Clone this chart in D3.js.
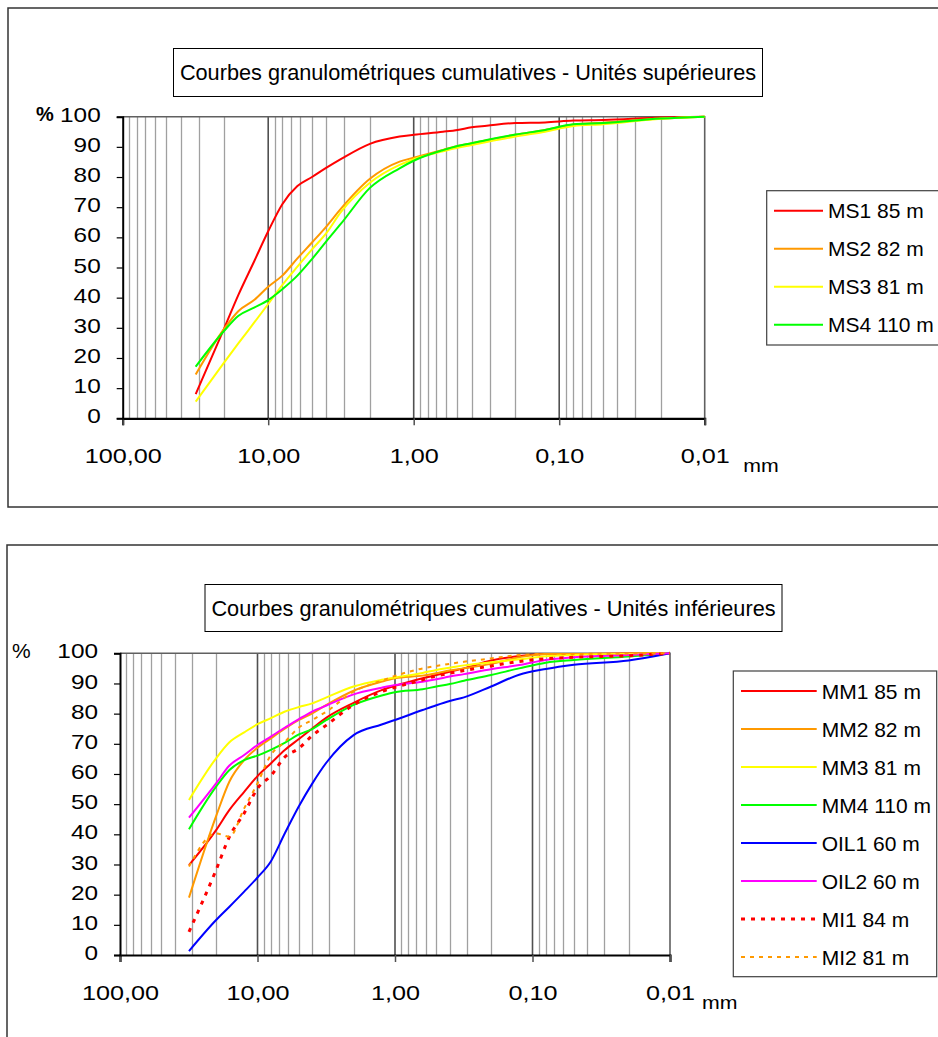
<!DOCTYPE html>
<html><head><meta charset="utf-8">
<script src="https://cdn.jsdelivr.net/npm/d3@7"></script>
<style>
body{margin:0;background:#fff}
svg{display:block}
text{font-family:"Liberation Sans",Arial,sans-serif;fill:#000}
</style>
</head><body>
<svg id="c" width="938" height="1037"></svg>
<script>
// ---------- DATA ----------
const sieves = [31.5, 20, 16, 12.5, 10, 8, 6.3, 5, 4, 3.15, 2, 1.25, 1, 0.63, 0.5, 0.4, 0.315, 0.2, 0.125, 0.08, 0.05, 0.02, 0.01];
const xTickValues = [100, 10, 1, 0.1, 0.01];
const yTickValues = [0, 10, 20, 30, 40, 50, 60, 70, 80, 90, 100];

const topTitle = "Courbes granulométriques cumulatives - Unités supérieures";
const bottomTitle = "Courbes granulométriques cumulatives - Unités inférieures";

const topNames = ["MS1 85 m", "MS2 82 m", "MS3 81 m", "MS4 110 m"];
const MS1 = [8, 30, 41, 52, 62, 71, 77, 80, 83, 86, 91, 93.4, 94, 95, 95.6, 96.5, 97, 97.9, 98.1, 98.7, 98.9, 99.7, 100];
const MS2 = [14.5, 29.8, 35.6, 39.2, 43.6, 47.3, 53, 58.3, 63.5, 69.6, 79.4, 85.1, 86.4, 89, 90.3, 91.2, 92.2, 94, 95.6, 97.4, 98, 99.4, 100];
const MS3 = [5.5, 18.6, 24.9, 31.7, 37.9, 44.2, 50.3, 56, 61.3, 68.5, 78.1, 84, 85.9, 88.5, 89.7, 90.6, 91.6, 93.4, 95, 96.9, 97.5, 99.3, 100];
const MS4 = [17.1, 29.1, 34, 36.7, 39.2, 42.8, 47.3, 52.8, 58.6, 64.6, 76.4, 82.9, 85.4, 88.9, 90.3, 91.2, 92.3, 94.1, 95.6, 97.5, 97.9, 99.4, 100];

const bottomNames = ["MM1 85 m", "MM2 82 m", "MM3 81 m", "MM4 110 m", "OIL1 60 m", "OIL2 60 m", "MI1 84 m", "MI2 81 m"];
const MM1 = [29.8, 41.4, 48.1, 54.1, 59.3, 63.5, 68, 71.6, 75.1, 78.7, 83.6, 87.8, 89.2, 91.7, 92.8, 93.9, 95, 97.6, 99.1, 99.8, 99.8, 99.9, 100];
const MM2 = [19, 46, 57.5, 64.6, 68.7, 71.8, 75.1, 77.9, 80.1, 82.9, 87.6, 90.6, 91.7, 92.6, 93.4, 94.3, 95, 96.5, 98.7, 99.8, 99.8, 99.9, 100];
const MM3 = [51.4, 65.2, 70.5, 73.8, 76.5, 78.5, 80.7, 82.2, 83.4, 85.4, 89, 91.2, 92, 93.5, 94.5, 95.2, 96, 97, 98, 99, 99.4, 99.8, 100];
const MM4 = [41.7, 55.8, 61.3, 64.6, 66.1, 68, 70.4, 73.1, 74.9, 77.9, 82.9, 86, 87.1, 88.1, 89, 89.8, 90.9, 92.8, 95, 96.9, 97.8, 98.9, 100];
const OIL1 = [1.3, 11.6, 16, 21, 25.7, 31, 40.5, 49.3, 56.8, 63.8, 72.9, 76.4, 77.9, 81.2, 82.8, 84.2, 85.4, 89, 92.9, 94.8, 96.2, 97.6, 100];
const OIL2 = [45.5, 56.9, 62.8, 66.3, 69.6, 72.4, 75.4, 78.2, 80.7, 82.7, 86.4, 88.6, 89.5, 90.6, 91.4, 92.3, 93.1, 94.7, 96.1, 97.8, 98.7, 99.4, 100];
const MI1 = [7.7, 28.2, 39.2, 47, 55.2, 59.4, 65.7, 68.5, 72.7, 76.2, 82.9, 87.3, 88.7, 91.2, 92.5, 93.4, 94.3, 95.8, 97.3, 98.2, 98.7, 99.2, 100];
const MI2 = [29.3, 40.3, 39.2, 48.6, 56.9, 66.3, 70.7, 75.4, 77.9, 80.7, 87.3, 90.9, 92.5, 95, 95.8, 96.5, 97.2, 98.3, 99.4, 99.8, 99.8, 99.9, 100];

// ---------- STYLES ----------
const topStyles = [
  {color:"#ff0000", width:2, dash:null},
  {color:"#ff9900", width:2, dash:null},
  {color:"#ffff00", width:2, dash:null},
  {color:"#00ff00", width:2, dash:null}
];
const bottomStyles = [
  {color:"#ff0000", width:2, dash:null},
  {color:"#ff9900", width:2, dash:null},
  {color:"#ffff00", width:2, dash:null},
  {color:"#00ff00", width:2, dash:null},
  {color:"#0000ff", width:2, dash:null},
  {color:"#ff00ff", width:2, dash:null},
  {color:"#ff0000", width:3, dash:"4,6"},
  {color:"#ff9900", width:2, dash:"4,5"}
];

const FS = 21;
const svg = d3.select("#c");

function stretch(sel, k) {
  sel.each(function () {
    const l = this.getComputedTextLength();
    d3.select(this).attr("textLength", l * k).attr("lengthAdjust", "spacingAndGlyphs");
  });
}

function drawChart(o) {
  const g = svg.append("g");
  g.append("rect").attr("x", o.frame[0]).attr("y", o.frame[1]).attr("width", o.frame[2]).attr("height", o.frame[3])
    .attr("fill", "#fff").attr("stroke", "#333").attr("stroke-width", 1.5);

  const [L, T, R, B] = o.plot;
  const x = d3.scaleLog().domain([100, 0.01]).range([L, R]);
  const y = d3.scaleLinear().domain([0, 100]).range([B, T]);

  const all = x.ticks();
  const isMajor = v => xTickValues.some(m => Math.abs(Math.log10(v) - Math.log10(m)) < 1e-6);
  g.append("g").selectAll("line").data(all.filter(v => !isMajor(v))).join("line")
    .attr("x1", d => Math.round(x(d)) + 0.5).attr("x2", d => Math.round(x(d)) + 0.5)
    .attr("y1", T).attr("y2", B).attr("stroke", "#a0a0a0").attr("stroke-width", 1.3);
  g.append("g").selectAll("line").data(xTickValues.slice(1, -1)).join("line")
    .attr("x1", d => x(d)).attr("x2", d => x(d))
    .attr("y1", T).attr("y2", B).attr("stroke", "#505050").attr("stroke-width", 1.6);
  g.append("path").attr("d", `M${L},${T}H${R}V${B}`).attr("fill", "none").attr("stroke", "#606060").attr("stroke-width", 1.6);

  const line = d3.line().x((d, i) => x(sieves[i])).y(d => y(d)).curve(d3.curveMonotoneX);
  o.series.forEach((s, k) => {
    const st = o.styles[k];
    g.append("path").attr("d", line(s)).attr("fill", "none")
      .attr("stroke", st.color).attr("stroke-width", st.width)
      .attr("stroke-dasharray", st.dash).attr("stroke-linejoin", "round");
  });

  const xa = g.append("g").attr("transform", `translate(0,${B})`)
    .call(d3.axisBottom(x).tickValues(xTickValues).tickSize(7).tickPadding(23)
      .tickFormat(d => d.toFixed(2).replace(".", ",")));
  xa.select(".domain").attr("stroke", "#000").attr("stroke-width", 2.2);
  xa.selectAll(".tick line").attr("stroke", "#505050").attr("stroke-width", 1.5);
  xa.selectAll("text").attr("font-size", FS).attr("font-family", null);
  stretch(xa.selectAll("text"), 1.2);

  const ya = g.append("g").attr("transform", `translate(${L},0)`)
    .call(d3.axisLeft(y).tickValues(yTickValues).tickSize(6).tickPadding(16));
  ya.select(".domain").attr("stroke", "#000").attr("stroke-width", 2);
  ya.selectAll(".tick line").attr("stroke", "#000").attr("stroke-width", 1.2);
  ya.selectAll("text").attr("font-size", FS).attr("font-family", null).attr("dy", "0.22em");
  stretch(ya.selectAll("text"), 1.16);

  g.append("text").attr("x", o.pct.x).attr("y", y(100)).attr("dy", "0.22em")
    .attr("font-size", o.pct.bold ? 20 : FS).attr("font-weight", o.pct.bold ? "bold" : "normal").text("%");
  const mm = g.append("text").attr("x", R + o.mm.dx).attr("y", B + o.mm.dy)
    .attr("font-size", FS - 2).text("mm");
  stretch(mm, 1.12);

  const tb = o.titleBox;
  g.append("rect").attr("x", tb[0]).attr("y", tb[1]).attr("width", tb[2]).attr("height", tb[3])
    .attr("fill", "#fff").attr("stroke", "#000").attr("stroke-width", 1);
  g.append("text").attr("x", tb[0] + tb[2] / 2).attr("y", tb[1] + tb[3] / 2).attr("dy", "0.36em")
    .attr("text-anchor", "middle").attr("font-size", 21.7).text(o.title);

  const lg = o.legend;
  g.append("rect").attr("x", lg.box[0]).attr("y", lg.box[1]).attr("width", lg.box[2]).attr("height", lg.box[3])
    .attr("fill", "#fff").attr("stroke", "#404040").attr("stroke-width", 1.2);
  o.names.forEach((n, k) => {
    const st = o.styles[k];
    const yy = lg.y0 + k * lg.step;
    g.append("line").attr("x1", lg.lx1).attr("x2", lg.lx2).attr("y1", yy).attr("y2", yy)
      .attr("stroke", st.color).attr("stroke-width", st.width).attr("stroke-dasharray", st.dash);
    g.append("text").attr("x", lg.tx).attr("y", yy).attr("dy", "0.36em").attr("font-size", FS).text(n);
  });
}

drawChart({
  frame: [8, 8, 945, 499],
  plot: [122.7, 116.7, 704.7, 418.3],
  titleBox: [173.5, 48.5, 589, 48],
  title: topTitle,
  names: topNames,
  series: [MS1, MS2, MS3, MS4],
  styles: topStyles,
  legend: {box: [766.7, 190.7, 190, 154.3], y0: 210.7, step: 38, lx1: 774, lx2: 823, tx: 828},
  pct: {x: 36, bold: true},
  mm: {dx: 38.5, dy: 54}
});

drawChart({
  frame: [7, 545, 945, 510],
  plot: [120, 653.3, 670, 955],
  titleBox: [205, 584.5, 577, 47],
  title: bottomTitle,
  names: bottomNames,
  series: [MM1, MM2, MM3, MM4, OIL1, OIL2, MI1, MI2],
  styles: bottomStyles,
  legend: {box: [733.3, 671, 203.4, 305.7], y0: 691, step: 38, lx1: 741, lx2: 816.7, tx: 821.7},
  pct: {x: 12, bold: false},
  mm: {dx: 32, dy: 54}
});
</script>
</body></html>
